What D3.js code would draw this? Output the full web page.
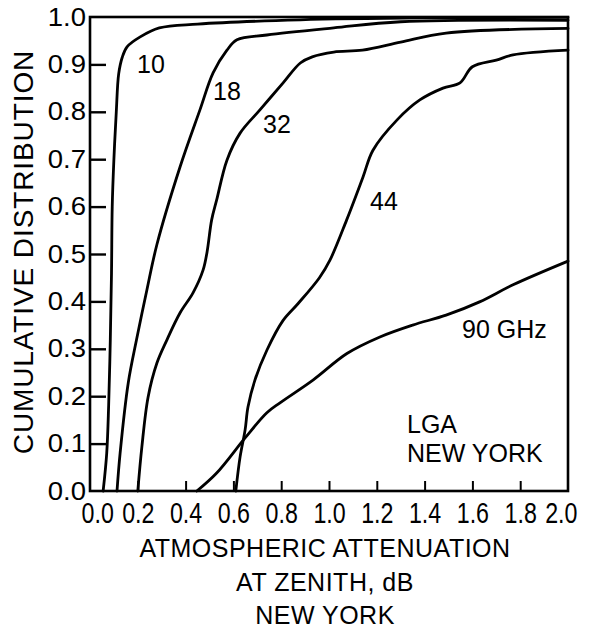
<!DOCTYPE html>
<html>
<head>
<meta charset="utf-8">
<script src="https://cdn.jsdelivr.net/npm/d3@7"></script>
<style>
  body { margin: 0; background: #fff; }
  svg { display: block; }
  text { font-family: "Liberation Sans", Arial, sans-serif; fill: #000; }
  .curve { fill: none; stroke: #000; stroke-width: 2.8; stroke-linejoin: round; stroke-linecap: round; }
</style>
</head>
<body>
<svg id="chart"></svg>
<script>
// cumulative distribution of zenith attenuation, LGA New York
var att10 = [0.055, 0.07, 0.078, 0.085, 0.09, 0.093, 0.10, 0.11, 0.12, 0.135, 0.155, 0.21, 0.29, 0.45, 0.88, 1.4, 2.0];
var cdf10 = [0, 0.08, 0.18, 0.32, 0.46, 0.6, 0.7, 0.8, 0.88, 0.915, 0.937, 0.958, 0.977, 0.985, 0.994, 0.998, 0.999];

var att18 = [0.113, 0.126, 0.16, 0.195, 0.238, 0.28, 0.377, 0.46, 0.515, 0.573, 0.615, 0.74, 1.02, 1.3, 2.0];
var cdf18 = [0, 0.08, 0.228, 0.32, 0.424, 0.52, 0.684, 0.804, 0.882, 0.93, 0.952, 0.962, 0.977, 0.99, 0.993];

var att32 = [0.2, 0.217, 0.243, 0.28, 0.322, 0.377, 0.431, 0.473, 0.49, 0.509, 0.53, 0.573, 0.628, 0.711, 0.808, 0.88, 0.93, 1.02, 1.14, 1.3, 1.49, 2.0];
var cdf32 = [0, 0.093, 0.198, 0.27, 0.319, 0.376, 0.418, 0.466, 0.505, 0.572, 0.614, 0.698, 0.755, 0.804, 0.861, 0.903, 0.916, 0.926, 0.93, 0.947, 0.966, 0.976];

var att44 = [0.61, 0.628, 0.649, 0.661, 0.69, 0.74, 0.808, 0.87, 0.96, 1.004, 1.074, 1.142, 1.184, 1.285, 1.38, 1.477, 1.548, 1.6, 1.70, 1.77, 2.0];
var cdf44 = [0, 0.072, 0.129, 0.177, 0.234, 0.297, 0.36, 0.395, 0.45, 0.487, 0.572, 0.662, 0.719, 0.783, 0.825, 0.85, 0.861, 0.895, 0.909, 0.92, 0.93];

var att90 = [0.447, 0.53, 0.649, 0.74, 0.795, 0.933, 1.075, 1.213, 1.35, 1.49, 1.63, 1.77, 2.0];
var cdf90 = [0, 0.038, 0.112, 0.165, 0.186, 0.234, 0.29, 0.325, 0.35, 0.371, 0.399, 0.435, 0.485];

var xTicks = [0, 0.2, 0.4, 0.6, 0.8, 1.0, 1.2, 1.4, 1.6, 1.8, 2.0];
var yTicks = [0, 0.1, 0.2, 0.3, 0.4, 0.5, 0.6, 0.7, 0.8, 0.9, 1.0];

var series = [
  { name: "10", att: att10, cdf: cdf10, label: [137, 73] },
  { name: "18", att: att18, cdf: cdf18, label: [213, 100] },
  { name: "32", att: att32, cdf: cdf32, label: [263, 133] },
  { name: "44", att: att44, cdf: cdf44, label: [370, 210] },
  { name: "90 GHz", att: att90, cdf: cdf90, label: [462, 338] }
];

var svgWidth = 597, svgHeight = 630;
var margin = { top: 17, right: 29, bottom: 139, left: 90 };
var width = svgWidth - margin.left - margin.right;
var height = svgHeight - margin.top - margin.bottom;

var svg = d3.select("#chart").attr("width", svgWidth).attr("height", svgHeight);
var g = svg.append("g").attr("transform", "translate(" + [margin.left, margin.top] + ")");

var x = d3.scaleLinear().domain([0, 2]).range([0, width]);
var y = d3.scaleLinear().domain([0, 1]).range([height, 0]);

// frame
g.append("rect")
  .attr("width", width).attr("height", height)
  .attr("fill", "none").attr("stroke", "#000").attr("stroke-width", 2.6);

// x axis, ticks pointing inward
var xAxis = g.append("g")
  .attr("transform", "translate(0," + height + ")")
  .call(d3.axisBottom(x).tickValues(xTicks).tickSize(-10).tickPadding(11).tickFormat(d3.format(".1f")));
xAxis.select(".domain").remove();
xAxis.selectAll("line").attr("stroke-width", 2)
  .filter(function (d) { return d === 0 || d === 2; }).remove();
xAxis.selectAll("text")
  .style("font-size", "29px")
  .attr("transform", "scale(0.8,1)")
  .attr("x", function (d) { return d === 0 ? 9 : (d === 2 ? -9 : 0); });

// y axis
var yAxis = g.append("g")
  .call(d3.axisLeft(y).tickValues(yTicks).tickSize(-16).tickPadding(4).tickFormat(d3.format(".1f")));
yAxis.select(".domain").remove();
yAxis.selectAll("line").attr("stroke-width", 2.4)
  .filter(function (d) { return d === 0 || d === 1; }).remove();
yAxis.selectAll("text")
  .style("font-size", "25px")
  .attr("transform", "scale(1.1,1)")
  .attr("x", -4 / 1.1);

// curves
var line = d3.line()
  .x(function (d) { return x(d[0]); })
  .y(function (d) { return y(d[1]); })
  .curve(d3.curveCatmullRom.alpha(0.5));

g.selectAll(".curve")
  .data(series)
  .enter()
  .append("path")
  .classed("curve", true)
  .attr("d", function (s) { return line(d3.zip(s.att, s.cdf)); });

// curve labels (page positions)
svg.selectAll(".clabel")
  .data(series)
  .enter()
  .append("text")
  .classed("clabel", true)
  .attr("x", function (s) { return s.label[0]; })
  .attr("y", function (s) { return s.label[1]; })
  .style("font-size", "25px")
  .text(function (s) { return s.name; });

svg.append("text").attr("x", 407).attr("y", 433).style("font-size", "25px").text("LGA");
svg.append("text").attr("x", 407).attr("y", 462).style("font-size", "25px").text("NEW YORK");

// axis titles
svg.append("text")
  .attr("transform", "translate(33,252) rotate(-90)")
  .attr("text-anchor", "middle")
  .style("font-size", "28px")
  .style("letter-spacing", "0.9px")
  .text("CUMULATIVE DISTRIBUTION");

var xTitle = ["ATMOSPHERIC ATTENUATION", "AT ZENITH, dB", "NEW YORK"];
var xTitleY = [557, 591, 624];
svg.selectAll(".xtitle")
  .data(xTitle)
  .enter()
  .append("text")
  .classed("xtitle", true)
  .attr("x", 325)
  .attr("y", function (d, i) { return xTitleY[i]; })
  .attr("text-anchor", "middle")
  .style("font-size", "25px")
  .style("letter-spacing", "0.5px")
  .text(function (d) { return d; });
</script>
</body>
</html>
